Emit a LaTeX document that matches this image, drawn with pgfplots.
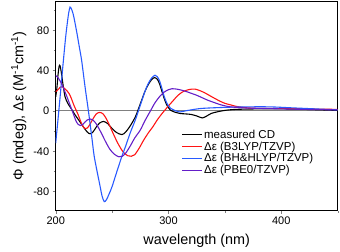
\documentclass[border=0pt]{standalone}
\usepackage{pgfplots}
\pgfplotsset{compat=1.18}
\usepackage{fontspec}
\setmainfont{Liberation Sans}
\definecolor{cdblue}{RGB}{40,90,255}
\definecolor{cdpurple}{RGB}{100,30,200}
\definecolor{cdred}{RGB}{255,20,20}
\begin{document}
\begin{tikzpicture}
\begin{axis}[
  name=ax,
  scale only axis,
  width=282bp, height=209.7bp,
  xmin=200, xmax=450, ymin=-99, ymax=109,
  xtick={200,300,400}, minor xtick={250,350,450},
  ytick={-80,-40,0,40,80}, minor ytick={-100,-60,-20,20,60,100},
  tick align=outside, tick pos=left,
  major tick length=3bp, minor tick length=2bp,
  /pgf/number format/assume math mode=true,
  ticklabel style={font=\fontsize{11bp}{13bp}\selectfont},
  label style={font=\fontsize{14.4bp}{17bp}\selectfont},
  xlabel={wavelength (nm)},
  ylabel={Φ (mdeg), Δε (M\textsuperscript{-1}cm\textsuperscript{-1})},
  xlabel style={yshift=-2bp},
  axis line style={line width=0.8pt},
  legend style={at={(0.435,0.405)}, anchor=north west, draw=none, fill=none,
    font=\fontsize{11.5bp}{13bp}\selectfont, row sep=-2bp,
    nodes={inner xsep=1.5bp}},
  legend cell align=left,
  legend image code/.code={\draw[#1] (0bp,0bp) -- (20bp,0bp);},
  every axis plot/.append style={line width=1.1pt, smooth},
]
\draw[gray, line width=1pt] (axis cs:200,0) -- (axis cs:450,0);
\addplot[black] coordinates {
(200,14) (201,22) (202,35) (203,44) (203.8,45) (205,38) (206.5,26) (208.3,14)
(210.5,8) (212.7,4) (215,0) (217.2,-4) (221,-10) (224.6,-16) (228,-21) (230.5,-22.7)
(233,-21) (236,-16) (239,-12) (242.4,-10.5) (246,-12.5) (250,-17.5) (254,-21.5)
(258.7,-23.5) (262,-21) (266,-15) (270.6,-6) (273,1) (276,10) (279,19) (282,26)
(285,31) (287.5,33) (290,31.5) (292,27) (294,20) (296,13) (298,7) (300,3) (302,0.5)
(305,-1) (310,-2.5) (315,-3) (320,-3.5) (325,-5) (330,-7) (334,-5) (338,-2.5)
(343,-1) (350,0.5) (360,1.5) (380,2) (400,2) (420,1.5) (450,0.5)};
\addlegendentry{measured CD}
\addplot[cdred] coordinates {
(200,19) (202,21) (204,23.5) (206,24) (208,22) (210,20) (212,17) (214,12) (216,6)
(218,1) (220,-4) (222,-10) (224,-15) (226,-17.5) (228,-17) (230,-14) (233,-8)
(236,-3) (239,-1.5) (242,-3) (245,-8) (248,-15) (252,-25) (256,-34) (260,-41)
(264,-44.5) (267,-45) (270,-43.5) (274,-37) (278,-29) (282,-22) (286,-16) (290,-9)
(294,-3) (297,1) (300,5) (304,10) (308,15) (312,18.5) (316,20.5) (320,21.5)
(324,21.5) (328,20) (332,18) (336,15.5) (340,13) (345,10) (350,7.5) (355,6)
(360,4.5) (370,3) (380,2.5) (400,2.5) (420,2) (450,1.5)};
\addlegendentry{Δε (B3LYP/TZVP)}
\addplot[cdblue] coordinates {
(200,-32) (202,-9) (204,15) (206,40) (207.5,58) (209,75) (210.5,89) (211.5,97)
(212.7,103) (214,101) (215.5,96) (217,88) (219,76) (221,63) (223,50) (226,24)
(229,0) (232,-26) (234,-44) (236.5,-59) (239.4,-75) (241,-84) (243,-90) (245,-88)
(247.5,-82) (250,-75) (254,-61) (258.7,-45) (262,-35) (266,-22) (270.6,-9) (273,-1)
(276,9) (279,19) (282,27) (285,32.5) (288,35.4) (290,34) (292,30) (294,23) (296,15)
(298,9) (300,5) (302,2.5) (305,0.7) (310,-1) (315,0) (320,1) (330,2.5) (350,3.5)
(370,4) (390,4) (410,3) (430,2) (450,1)};
\addlegendentry{Δε (BH\&HLYP/TZVP)}
\addplot[cdpurple] coordinates {
(200,35) (202,33) (204,29.5) (206,25) (208,19.5) (210,14) (212,8) (214,2) (216,-4)
(218,-10) (220,-13.5) (222,-14.5) (224,-13.5) (226,-11) (228,-9) (230.5,-8)
(233,-9) (236,-13) (240,-21) (244,-30) (248,-38) (252,-43) (256,-45.5) (259,-45)
(262,-42) (266,-35) (270,-27) (275,-19) (279,-10) (284,0) (288,8) (292,14)
(296,18.5) (300,21) (303,22) (306,21.8) (310,21) (315,19.5) (320,17.5) (325,15.5)
(330,13) (335,10.5) (340,8.5) (345,6.5) (350,5) (355,4) (360,3.5) (370,2.8)
(380,2.5) (400,2) (420,1.5) (450,1)};
\addlegendentry{Δε (PBE0/TZVP)}
\end{axis}
\path (ax.south west) ++(-55.7bp,-41.3bp) coordinate (bl);
\path (ax.north east) ++(2.3bp,1bp) coordinate (tr);
\path (bl) (tr);
\end{tikzpicture}
\end{document}
